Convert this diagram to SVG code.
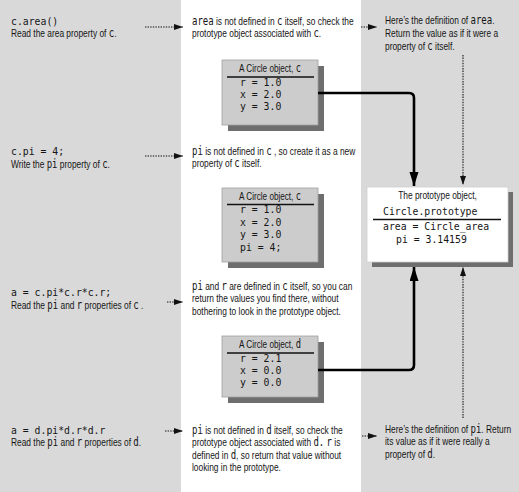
<svg xmlns="http://www.w3.org/2000/svg" width="519" height="492" viewBox="0 0 519 492">
<style>
.panel{fill:#d9d9d9}
.s{font-family:"Liberation Sans",Arial,sans-serif;font-size:10.6px;fill:#151515}
.m{font-family:"DejaVu Sans Mono","Liberation Mono",monospace;font-size:11.4px}
.code{font-family:"DejaVu Sans Mono","Liberation Mono",monospace;font-size:9.8px;fill:#151515}
.box{fill:#cccccc;stroke:#a0a0a0;stroke-width:0.8}
.pbox{fill:#ffffff;stroke:#d0d0d0;stroke-width:0.8}
.shadow{fill:#6e6e6e}
.rule{stroke:#111;stroke-width:1.5}
.solid{fill:none;stroke:#000;stroke-width:2.6}
.dot{fill:none;stroke:#111;stroke-width:1.1;stroke-dasharray:1.4 1.2}
</style>
<defs>
<marker id="ah" markerUnits="userSpaceOnUse" markerWidth="14" markerHeight="10" refX="14" refY="4.5" orient="auto">
<path d="M0,0 L14,4.5 L0,9 z" fill="#000"/>
</marker>
<marker id="ahs" markerUnits="userSpaceOnUse" markerWidth="9" markerHeight="7" refX="9" refY="3" orient="auto">
<path d="M0,0 L9,3 L0,6 z" fill="#111"/>
</marker>
</defs>
<rect class="panel" x="0" y="0" width="181" height="492"/>
<rect x="181" y="0" width="180" height="492" fill="#ffffff"/>
<rect class="panel" x="361" y="0" width="158" height="492"/>

<g id="step1-left">
<text class="code" x="11" y="25">c.area()</text>
<text class="s" transform="translate(11,37) scale(0.79,1)">Read the area property of <tspan class="m">c</tspan>.</text>
</g>
<g id="step2-left">
<text class="code" x="11" y="155">c.pi = 4;</text>
<text class="s" transform="translate(11,168) scale(0.79,1)">Write the <tspan class="m">pi</tspan> property of <tspan class="m">c</tspan>.</text>
</g>
<g id="step3-left">
<text class="code" x="11" y="296">a = c.pi*c.r*c.r;</text>
<text class="s" transform="translate(11,309) scale(0.79,1)">Read the <tspan class="m">pi</tspan> and <tspan class="m">r</tspan> properties of <tspan class="m">c</tspan> .</text>
</g>
<g id="step4-left">
<text class="code" x="11" y="434">a = d.pi*d.r*d.r</text>
<text class="s" transform="translate(11,446) scale(0.79,1)">Read the <tspan class="m">pi</tspan> and <tspan class="m">r</tspan> properties of <tspan class="m">d</tspan>.</text>
</g>

<g id="step1-mid">
<text class="s" transform="translate(192,25) scale(0.79,1)"><tspan class="m">area</tspan> is not defined in <tspan class="m">c</tspan> itself, so check the<tspan x="0" dy="12.3">prototype object associated with </tspan><tspan class="m">c</tspan>.</text>
</g>
<g id="step2-mid">
<text class="s" transform="translate(192,155) scale(0.79,1)"><tspan class="m">pi</tspan> is not defined in <tspan class="m">c</tspan> , so create it as a new<tspan x="0" dy="12.3">property of </tspan><tspan class="m">c</tspan> itself.</text>
</g>
<g id="step3-mid">
<text class="s" transform="translate(192,290) scale(0.79,1)"><tspan class="m">pi</tspan> and <tspan class="m">r</tspan> are defined in <tspan class="m">c</tspan> itself, so you can<tspan x="0" dy="12.3">return the values you find there, without</tspan><tspan x="0" dy="12.3">bothering to look in the prototype object.</tspan></text>
</g>
<g id="step4-mid">
<text class="s" transform="translate(192,434) scale(0.79,1)"><tspan class="m">pi</tspan> is not defined in <tspan class="m">d</tspan> itself, so check the<tspan x="0" dy="12.3">prototype object associated with </tspan><tspan class="m">d.</tspan>  <tspan class="m">r</tspan> is<tspan x="0" dy="12.3">defined in </tspan><tspan class="m">d</tspan>, so return that value without<tspan x="0" dy="12.3">looking in the prototype.</tspan></text>
</g>

<g id="step1-right">
<text class="s" transform="translate(385,24) scale(0.79,1)">Here’s the definition of <tspan class="m">area</tspan>.<tspan x="0" dy="13">Return the value as if it were a</tspan><tspan x="0" dy="13">property of </tspan><tspan class="m">c</tspan> itself.</text>
</g>
<g id="step4-right">
<text class="s" transform="translate(385,433) scale(0.79,1)">Here’s the definition of <tspan class="m">pi</tspan>. Return<tspan x="0" dy="12.5">its value as if it were really a</tspan><tspan x="0" dy="12.5">property of </tspan><tspan class="m">d</tspan>.</text>
</g>

<g id="object-c1">
<rect class="shadow" x="228" y="66" width="96" height="65"/>
<rect class="box" x="222" y="60" width="96" height="65"/>
<text class="s" transform="translate(270,72) scale(0.77,1)" text-anchor="middle">A Circle object, <tspan class="m">c</tspan></text>
<line class="rule" x1="227" y1="77" x2="314" y2="77"/>
<text class="code" x="240" y="86">r = 1.0</text>
<text class="code" x="240" y="98">x = 2.0</text>
<text class="code" x="240" y="110">y = 3.0</text>
</g>

<g id="object-c2">
<rect class="shadow" x="228" y="194" width="96" height="74"/>
<rect class="box" x="222" y="188" width="96" height="74"/>
<text class="s" transform="translate(270,200) scale(0.77,1)" text-anchor="middle">A Circle object, <tspan class="m">c</tspan></text>
<line class="rule" x1="227" y1="204.5" x2="314" y2="204.5"/>
<text class="code" x="240" y="213">r = 1.0</text>
<text class="code" x="240" y="225.5">x = 2.0</text>
<text class="code" x="240" y="238">y = 3.0</text>
<text class="code" x="240" y="250.5">pi = 4;</text>
</g>

<g id="object-d">
<rect class="shadow" x="228" y="342" width="96" height="61"/>
<rect class="box" x="222" y="336" width="96" height="61"/>
<text class="s" transform="translate(270,348) scale(0.77,1)" text-anchor="middle">A Circle object, <tspan class="m">d</tspan></text>
<line class="rule" x1="227" y1="353" x2="314" y2="353"/>
<text class="code" x="240" y="362">r = 2.1</text>
<text class="code" x="240" y="374">x = 0.0</text>
<text class="code" x="240" y="386">y = 0.0</text>
</g>

<g id="prototype">
<rect class="shadow" x="372" y="192" width="141" height="75"/>
<rect class="pbox" x="367" y="187" width="141" height="75"/>
<text class="s" transform="translate(437.5,199) scale(0.79,1)" text-anchor="middle">The prototype object,</text>
<text class="code" x="383" y="215">Circle.prototype</text>
<line class="rule" x1="373" y1="219.5" x2="501" y2="219.5"/>
<text class="code" x="383" y="230">area = Circle_area</text>
<text class="code" x="396" y="243">pi = 3.14159</text>
</g>

<g id="connectors">
<path class="solid" d="M318,93 H409 Q414,93 414,98 V186" marker-end="url(#ah)"/>
<path class="solid" d="M318,370 H409 Q414,370 414,365 V267" marker-end="url(#ah)"/>
<path class="dot" d="M463,55 V185" marker-end="url(#ahs)"/>
<path class="dot" d="M463,418 V267" marker-end="url(#ahs)"/>
<path class="dot" d="M145,27 H183" marker-end="url(#ahs)"/>
<path class="dot" d="M361,27 H377" marker-end="url(#ahs)"/>
<path class="dot" d="M145,156 H183" marker-end="url(#ahs)"/>
<path class="dot" d="M167,302 H183" marker-end="url(#ahs)"/>
<path class="dot" d="M165,431 H183" marker-end="url(#ahs)"/>
<path class="dot" d="M362,436 H377" marker-end="url(#ahs)"/>
</g>
</svg>
